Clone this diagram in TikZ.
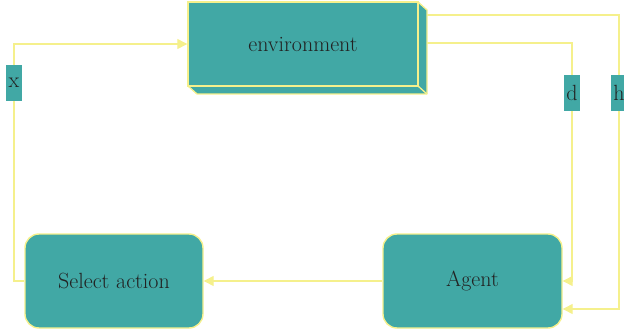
\documentclass[tikz,border=0pt]{standalone}
\usepackage{fontspec}
\setmainfont{Latin Modern Roman}
\usetikzlibrary{arrows.meta}
\definecolor{teal}{HTML}{41A8A5}
\definecolor{wire}{HTML}{F5F08C}
\definecolor{ink}{HTML}{222222}
\begin{document}
\begin{tikzpicture}[x=1pt,y=-1pt,
  box/.style={draw=wire,line width=1.4pt,fill=teal,text=ink,font=\fontsize{22}{25}\selectfont,inner sep=0pt},
  tag/.style={fill=teal,text=ink,font=\fontsize{22}{25}\selectfont,minimum width=16pt,minimum height=36pt,inner sep=0pt},
  conn/.style={draw=wire,line width=1.3pt},
  arr/.style={conn,-{Triangle[length=10pt,width=10pt]}}]
\useasboundingbox (0,0) rectangle (624,334);
% extruded back faces of the environment block
\fill[teal] (418,2) -- (427,10) -- (427,94) -- (197,94) -- (188,86) -- (418,86) -- cycle;
\draw[conn,line join=round] (418,2) -- (427,10) -- (427,94) -- (197,94) -- (188,86);
\draw[conn] (418,86) -- (427,94);
\node[box,minimum width=230pt,minimum height=84pt] (env) at (303,44) {environment};
\node[box,rounded corners=14pt,minimum width=178pt,minimum height=94pt] (sel) at (114,281) {Select action};
\node[box,rounded corners=14pt,minimum width=179pt,minimum height=94pt] (agent) at (472.5,281) {Agent};
\coordinate (eh) at (427,15);
\coordinate (ed) at (427,43);
% feedback wires
\draw[arr] (eh) -- (619,15) -- (619,309) -- (agent.east |- 0,309);
\draw[arr] (ed) -- (572,43) |- (agent.east);
\draw[arr] (agent.west) -- (sel.east);
\draw[arr] (sel.west) -- (14,281) |- (env.west);
% wire labels
\node[tag] (lx) at (14,83) {x};
\node[tag] (ld) at (572,93) {d};
\node[tag] (lh) at (619,93) {h};
\end{tikzpicture}
\end{document}
